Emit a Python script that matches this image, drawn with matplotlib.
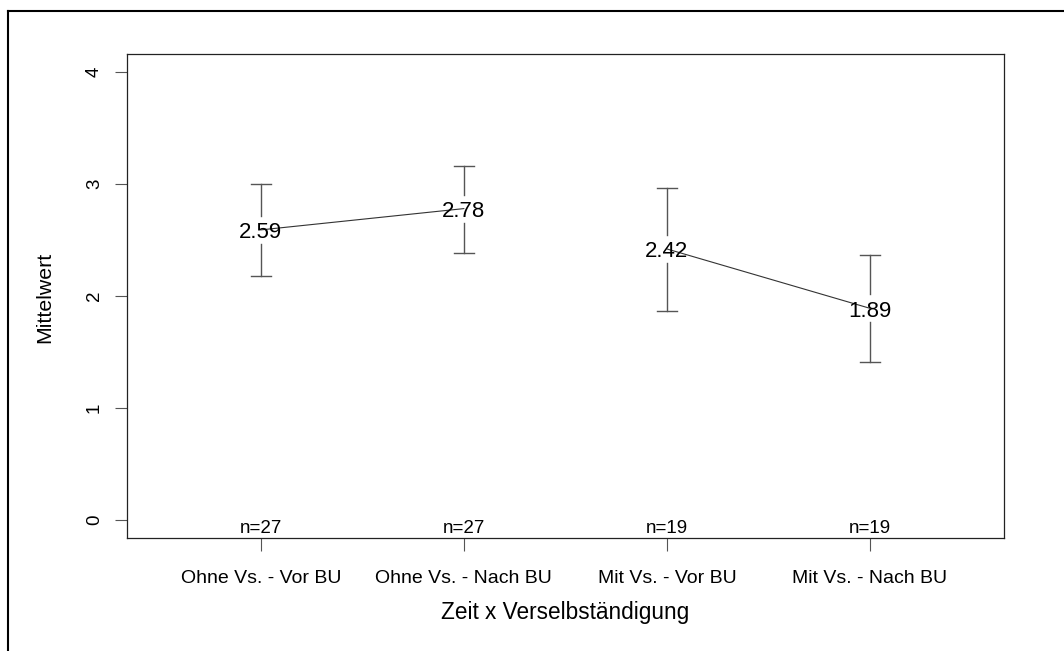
import matplotlib
matplotlib.use("Agg")
import matplotlib.pyplot as plt
from matplotlib.lines import Line2D

plt.rcParams["font.family"] = ["Liberation Sans", "DejaVu Sans"]

# Group means with their confidence limits and group sizes
categories = ["Ohne Vs. - Vor BU", "Ohne Vs. - Nach BU",
              "Mit Vs. - Vor BU", "Mit Vs. - Nach BU"]
means = [2.59, 2.78, 2.42, 1.89]
ci_lower = [2.18, 2.38, 1.87, 1.41]
ci_upper = [3.00, 3.16, 2.96, 2.37]
n_obs = [27, 27, 19, 19]
# means are connected within each condition (before -> after)
connected_pairs = [(0, 1), (2, 3)]
y_ticks = [0, 1, 2, 3, 4]

W, H = 1064, 651
fig = plt.figure(figsize=(W / 100, H / 100), dpi=100)
ax = fig.add_axes([126.7 / W, 1 - 538 / H, (1004 - 126.7) / W, (538 - 54) / H])

x = list(range(1, len(categories) + 1))
ax.set_xlim(0.34, len(categories) + 0.66)
ax.set_ylim(-0.16, 4.16)

for i, j in connected_pairs:
    ax.plot([x[i], x[j]], [means[i], means[j]], color="#333333", lw=0.8, zorder=2)

# confidence interval bars with a gap around the mean label
gap = 0.125
cap = 0.05
bar_col = "#555555"
for xi, m, lo, hi in zip(x, means, ci_lower, ci_upper):
    ax.plot([xi, xi], [m + gap, hi], color=bar_col, lw=1.0, zorder=2)
    ax.plot([xi, xi], [lo, m - gap], color=bar_col, lw=1.0, zorder=2)
    ax.plot([xi - cap, xi + cap], [hi, hi], color=bar_col, lw=1.0, zorder=2)
    ax.plot([xi - cap, xi + cap], [lo, lo], color=bar_col, lw=1.0, zorder=2)
    ax.annotate(f"{m:.2f}", xy=(xi, m), xytext=(0, -3), textcoords="offset pixels",
                ha="center", va="center", fontsize=16, color="black", zorder=3)

# group sizes along the bottom
for xi, n in zip(x, n_obs):
    ax.text(xi, -0.15, f"n={n}", ha="center", va="bottom", fontsize=13.5,
            color="black")

ax.set_xticks(x)
ax.set_xticklabels(categories, fontsize=14)
ax.set_yticks(y_ticks)
ax.set_yticklabels([str(t) for t in y_ticks], fontsize=13.5, rotation=90,
                   va="center")
ax.tick_params(axis="x", length=9, width=0.8, color="#555555", pad=14)
ax.tick_params(axis="y", length=9, width=0.8, color="#555555", pad=8)

for s in ax.spines.values():
    s.set_linewidth(0.9)
    s.set_color("#222222")

fig.text(565 / W, 1 - 612 / H, "Zeit x Verselbständigung", ha="center",
         va="center", fontsize=16.3)
fig.text(45 / W, 1 - 297 / H, "Mittelwert", ha="center", va="center",
         rotation=90, fontsize=15.3)

# outer frame
fig.add_artist(Line2D([8 / W, 8 / W], [0, 1 - 11 / H], transform=fig.transFigure,
                      color="black", lw=1.5))
fig.add_artist(Line2D([8 / W, 1], [1 - 11 / H, 1 - 11 / H], transform=fig.transFigure,
                      color="black", lw=1.5))

fig.savefig("out.png", dpi=100)
